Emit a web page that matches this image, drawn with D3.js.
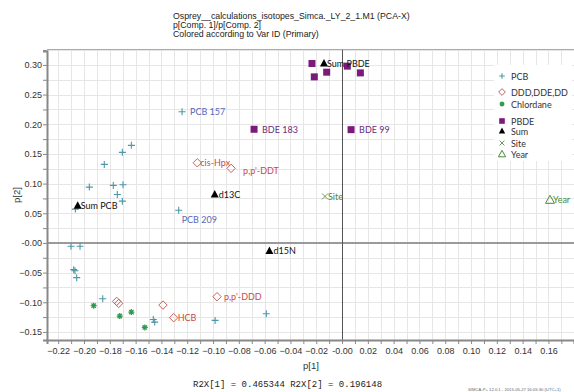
<!DOCTYPE html>
<html><head><meta charset="utf-8">
<script src="https://cdn.jsdelivr.net/npm/d3@7/dist/d3.min.js"></script>
<style>body{margin:0;background:#fff}svg{display:block}</style>
</head><body><svg id="c" width="574" height="392"></svg>
<script>
// ---- data ----
const titleLines = ["Osprey__calculations_isotopes_Simca._LY_2_1.M1 (PCA-X)", "p[Comp. 1]/p[Comp. 2]", "Colored according to Var ID (Primary)"];
const xTicks = [-0.22,-0.20,-0.18,-0.16,-0.14,-0.12,-0.10,-0.08,-0.06,-0.04,-0.02,0.00,0.02,0.04,0.06,0.08,0.10,0.12,0.14,0.16];
const yTicks = [-0.15,-0.10,-0.05,0.00,0.05,0.10,0.15,0.20,0.25,0.30];
const groups = ["PCB","DDD,DDE,DD","Chlordane","PBDE","Sum","Site","Year"];
const pointGroup = ["PCB","PCB","PCB","PCB","PCB","PCB","PCB","PCB","PCB","PCB","PCB","PCB","PCB","PCB","PCB","PCB","PCB","PCB","PCB","PCB","PCB",
  "DDD,DDE,DD","DDD,DDE,DD","DDD,DDE,DD","DDD,DDE,DD","DDD,DDE,DD","DDD,DDE,DD","DDD,DDE,DD",
  "Chlordane","Chlordane","Chlordane","Chlordane",
  "PBDE","PBDE","PBDE","PBDE","PBDE","PBDE","PBDE",
  "Sum","Sum","Sum","Sum","Site","Year"];
const p1 = [-0.124,-0.1633,-0.1703,-0.1843,-0.1959,-0.1773,-0.1698,-0.1742,-0.1703,-0.2067,-0.1266,-0.2101,-0.2031,-0.2080,-0.2070,-0.2057,-0.1855,-0.1463,-0.1452,-0.0984,-0.0587,
  -0.1122,-0.0860,-0.1747,-0.1731,-0.1388,-0.1305,-0.0969,
  -0.1925,-0.1723,-0.1633,-0.1529,
  -0.0233,-0.0215,-0.0119,0.0041,0.0142,-0.0682,0.0070,
  -0.0140,-0.0987,-0.2049,-0.0563,-0.0132,0.1612];
const p2 = [0.221,0.1645,0.1527,0.1324,0.0941,0.0970,0.0980,0.0817,0.0704,0.0570,0.0550,-0.0056,-0.0056,-0.0450,-0.0470,-0.0585,-0.0940,-0.1290,-0.1334,-0.1306,-0.1193,
  0.1351,0.1257,-0.0985,-0.1019,-0.1047,-0.1260,-0.0906,
  -0.1058,-0.1233,-0.1165,-0.1424,
  0.3024,0.2799,0.2878,0.2980,0.2866,0.1916,0.1909,
  0.3024,0.0817,0.0625,-0.0135,0.0784,0.0727];
const pointLabel = ["PCB 157","","","","","","","","","","PCB 209","","","","","","","","","","",
  "cis-Hpx","p,p'-DDT","","","","HCB","p,p'-DDD",
  "","","","",
  "","","","","","BDE 183","BDE 99",
  "Sum PBDE","d13C","Sum PCB","d15N","Site","Year"];
const footer = "R2X[1] = 0.465344 R2X[2] = 0.196148";
const stamp = "SIMCA-P+ 12.0.1 - 2015-05-27 16:05:30 (UTC+1)";

// ---- styles ----
const markColor = {"PCB":"#4a98a8","DDD,DDE,DD":"#c8605a","Chlordane":"#2f9a52","PBDE":"#7a1a7a","Sum":"#000","Site":"#6a9a58","Year":"#4a8a3a"};
const labelColor = {"PCB":"#5a66b8","DDD,DDE,DD":"#c84848","Chlordane":"#2f9a52","PBDE":"#6a2a7a","Sum":"#111","Site":"#4a8a3a","Year":"#4a8a3a"};
const LF = "Lato, Open Sans, sans-serif";
const AF = "Liberation Sans, Arial, sans-serif";

const svg = d3.select("#c");
const x = d3.scaleLinear().domain([-0.2287, 0.1798]).range([47, 574]);
const y = d3.scaleLinear().domain([-0.1636, 0.3235]).range([340, 51]);

// titles
svg.append("g").selectAll("text").data(titleLines).join("text")
  .attr("x", 173).attr("y", (d,i)=>19+i*9)
  .attr("font-family",AF).attr("font-size",8.75).attr("fill","#222").text(d=>d);

// grid
const gx = d3.range(-0.22, 0.1751, 0.01).map(v=>+v.toFixed(3));
const gy = d3.range(-0.15, 0.3251, 0.025).map(v=>+v.toFixed(3));
const grid = svg.append("g");
grid.selectAll("line.gx").data(gx.concat([0.18])).join("line").attr("class","gx")
  .attr("x1",d=>Math.round(x(d))+0.5).attr("x2",d=>Math.round(x(d))+0.5).attr("y1",50).attr("y2",340)
  .attr("stroke","#e6e6e6");
grid.selectAll("line.gy").data(gy).join("line").attr("class","gy")
  .attr("y1",d=>Math.round(y(d))+0.5).attr("y2",d=>Math.round(y(d))+0.5).attr("x1",47).attr("x2",574)
  .attr("stroke","#e6e6e6");

// frame top
svg.append("line").attr("x1",47).attr("x2",574).attr("y1",49.5).attr("y2",49.5).attr("stroke","#aaa");

// zero lines
svg.append("line").attr("x1",47).attr("x2",574).attr("y1",y(0)).attr("y2",y(0)).attr("stroke","#9a9a9a").attr("stroke-width",2);
svg.append("line").attr("x1",Math.round(x(0))+0.5).attr("x2",Math.round(x(0))+0.5).attr("y1",50).attr("y2",340).attr("stroke","#555");

// axes
const xAxis = svg.append("g").attr("transform","translate(0,340)")
  .call(d3.axisBottom(x).tickValues(gx).tickSize(4).tickFormat(d=>{
     const r = Math.round(d*100);
     if (r % 2 !== 0) return "";
     return r===0 ? "-0.00" : d3.format(".2f")(d);
  }));
xAxis.select(".domain").attr("stroke","#888").attr("stroke-width",2);
xAxis.selectAll(".tick line").attr("stroke","#888");
xAxis.selectAll("text").attr("font-family",AF).attr("font-size",9).attr("fill","#333").attr("y",8).attr("dy","0.71em");

const yAxis = svg.append("g").attr("transform","translate(47,0)")
  .call(d3.axisLeft(y).tickValues(gy).tickSize(4).tickFormat(d=>{
     const r = Math.round(d*1000);
     if (r % 50 !== 0) return "";
     return r===0 ? "-0.00" : d3.format(".2f")(d);
  }));
yAxis.select(".domain").attr("stroke","#888").attr("stroke-width",2);
yAxis.selectAll(".tick line").attr("stroke","#888");
yAxis.selectAll("text").attr("font-family",AF).attr("font-size",9).attr("fill","#333").attr("x",-5);

// axis titles
svg.append("text").attr("x",311).attr("y",369).attr("text-anchor","middle")
  .attr("font-family",AF).attr("font-size",9.5).attr("fill","#333").text("p[1]");
svg.append("text").attr("transform","translate(20,195) rotate(-90)").attr("text-anchor","middle")
  .attr("font-family",AF).attr("font-size",9.5).attr("fill","#333").text("p[2]");

// markers
function drawMarker(g, grp, cx, cy, s){
  s = s || 1;
  const c = markColor[grp];
  if (grp==="PCB"){
    const a=3.5*s;
    g.append("path").attr("d",`M${cx-a},${cy}H${cx+a}M${cx},${cy-a}V${cy+a}`).attr("stroke",c).attr("stroke-width",1.1);
  } else if (grp==="DDD,DDE,DD"){
    const a=4.2*s;
    g.append("path").attr("d",`M${cx},${cy-a}L${cx+a},${cy}L${cx},${cy+a}L${cx-a},${cy}Z`).attr("fill","none").attr("stroke",c).attr("stroke-width",1);
  } else if (grp==="Chlordane"){
    const a=3*s, b=2.2*s;
    g.append("path").attr("d",`M${cx-a},${cy}H${cx+a}M${cx},${cy-a}V${cy+a}M${cx-b},${cy-b}L${cx+b},${cy+b}M${cx-b},${cy+b}L${cx+b},${cy-b}`).attr("stroke",c).attr("stroke-width",1.3);
  } else if (grp==="PBDE"){
    const a=3.5*s;
    g.append("rect").attr("x",cx-a).attr("y",cy-a).attr("width",2*a).attr("height",2*a).attr("fill",c);
  } else if (grp==="Sum"){
    g.append("path").attr("d",`M${cx},${cy-4.5*s}L${cx+4*s},${cy+3*s}L${cx-4*s},${cy+3*s}Z`).attr("fill",c);
  } else if (grp==="Site"){
    const a=3*s;
    g.append("path").attr("d",`M${cx-a},${cy-a}L${cx+a},${cy+a}M${cx-a},${cy+a}L${cx+a},${cy-a}`).attr("stroke",c).attr("stroke-width",1);
  } else if (grp==="Year"){
    const a=4.5*s;
    g.append("path").attr("d",`M${cx},${cy-a}L${cx+a},${cy+3.5*s}L${cx-a},${cy+3.5*s}Z`).attr("fill","none").attr("stroke",c).attr("stroke-width",1);
  }
}
const pts = svg.append("g");
p1.forEach((v,i)=>drawMarker(pts, pointGroup[i], x(v), y(p2[i])));

// labels
const labelDx = {"PCB 157":8,"PCB 209":3,"cis-Hpx":3,"p,p'-DDT":12,"HCB":4,"p,p'-DDD":7,"BDE 183":8,"BDE 99":8,"Sum PBDE":3,"d13C":4,"Sum PCB":3,"d15N":4,"Site":3,"Year":3};
const labelDy = {"PCB 209":9,"p,p'-DDT":2};
const lab = svg.append("g");
p1.forEach((v,i)=>{
  const t = pointLabel[i]; if(!t) return;
  lab.append("text").attr("x",x(v)+(labelDx[t]||4)).attr("y",y(p2[i])+3.5+(labelDy[t]||0))
    .attr("font-family",LF).attr("font-size",9)
    .attr("fill",labelColor[pointGroup[i]]).text(t);
});

// legend
const leg = svg.append("g");
leg.append("rect").attr("x",494).attr("y",65).attr("width",78).attr("height",96).attr("fill","#fff");
const legY = [76,92,104,121,131,143,154];
groups.forEach((gname,i)=>{
  const cy = legY[i];
  const gg = leg.append("g");
  drawMarker(gg, gname, 502, cy, 0.8);
  gg.append("text").attr("x",511).attr("y",cy+3.5).attr("font-family",LF)
    .attr("font-size",9).attr("fill","#333").text(gname);
});

// footer
svg.append("text").attr("x",193).attr("y",387).attr("font-family","Liberation Mono, DejaVu Sans Mono, monospace")
  .attr("font-size",9).attr("fill","#222").text(footer);
svg.append("text").attr("x",468).attr("y",391).attr("font-family",AF)
  .attr("font-size",4.2).attr("fill","#666").text(stamp);
</script></body></html>
